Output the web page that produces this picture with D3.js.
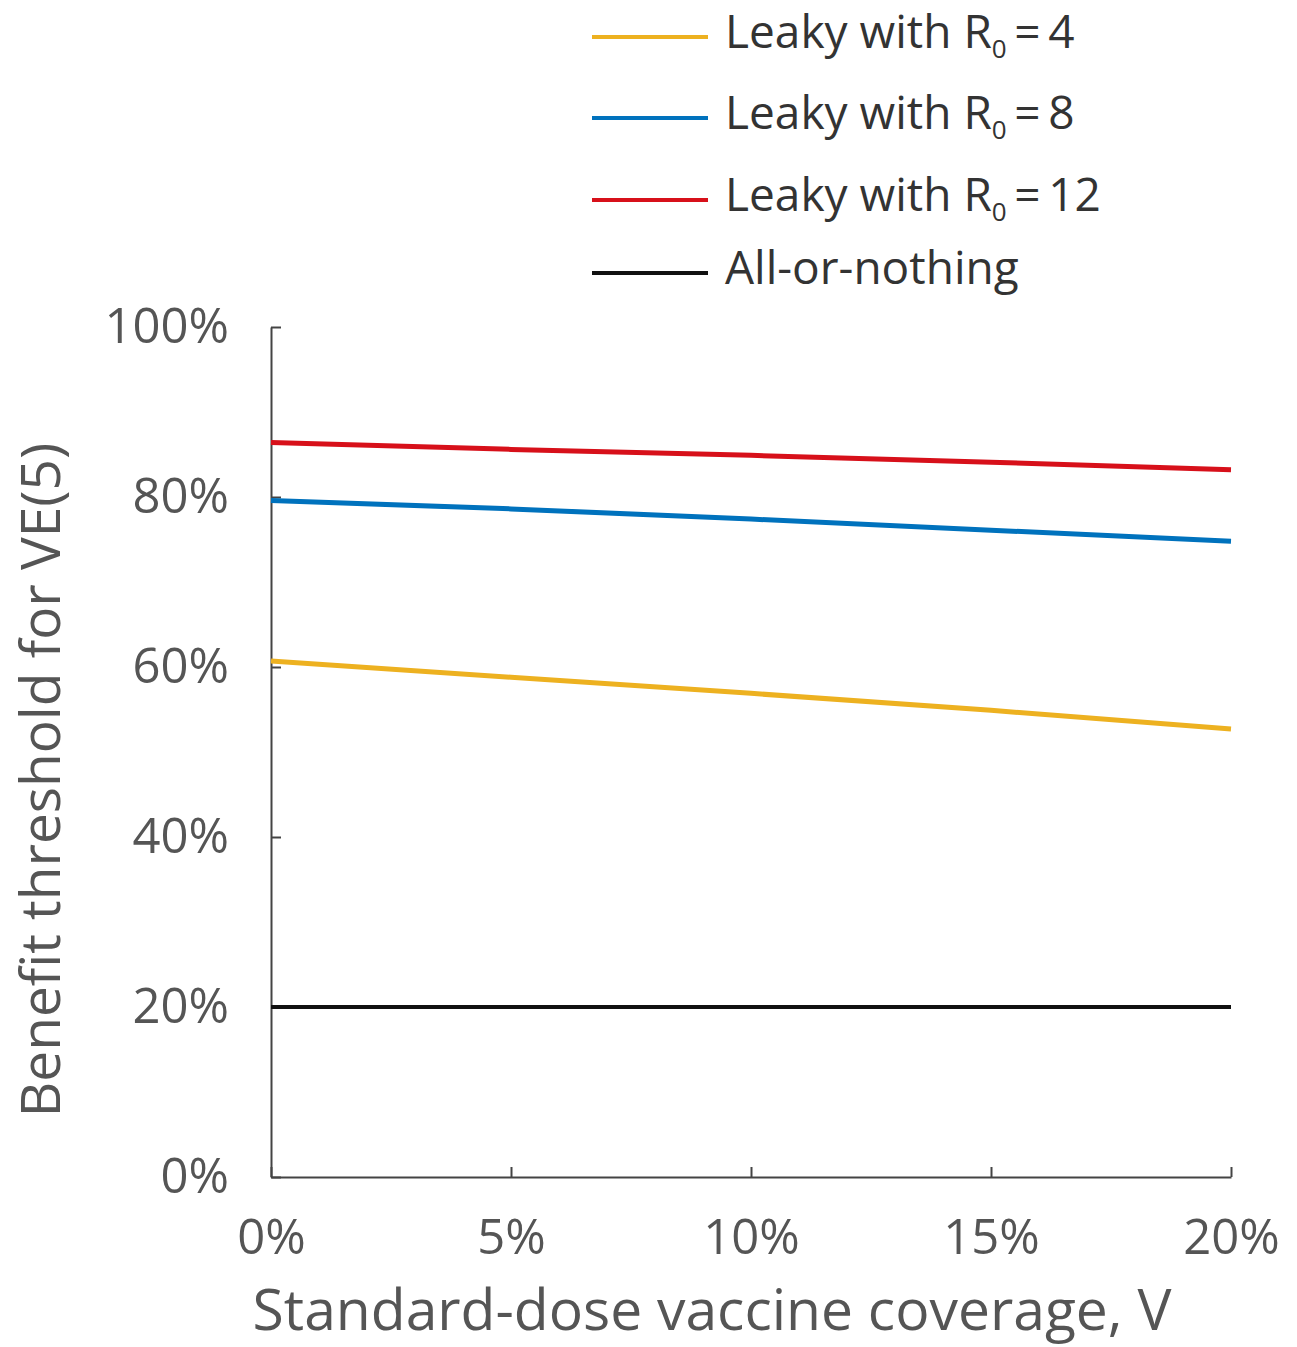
<!DOCTYPE html>
<html>
<head>
<meta charset="utf-8">
<script src="https://cdn.jsdelivr.net/npm/d3@7"></script>
<style>
  body { margin: 0; background: #fff; }
  svg { font-family: "Open Sans", "Noto Sans", sans-serif; }
  .axis text { fill: #555; font-size: 49px; font-family: "Open Sans", "Noto Sans", sans-serif; }
  .axis path, .axis line { stroke: #444; stroke-width: 2; }
</style>
</head>
<body>
<div class="chart"></div>
<script>
// coverage V (%) at which values were read
var coverage = [0, 5, 10, 15, 20];
// benefit threshold (%)
var leaky4  = [60.7, 58.8, 56.9, 54.9, 52.7];
var leaky8  = [79.6, 78.6, 77.4, 76.1, 74.8];
var leaky12 = [86.4, 85.6, 84.9, 84.1, 83.2];
var allOrNothing = [20, 20, 20, 20, 20];

var seriesNames = ["4", "8", "12", null];
var seriesColors = ["#EDB120", "#0072BD", "#D7101A", "#111111"];
var seriesValues = [leaky4, leaky8, leaky12, allOrNothing];

var xTicks = [0, 5, 10, 15, 20];
var yTicks = [0, 20, 40, 60, 80, 100];

var width = 1297, height = 1347;
var margin = {left: 271, right: 66, top: 327, bottom: 170};

const svg = d3.select(".chart").append("svg")
  .attr("width", width)
  .attr("height", height);

var x = d3.scaleLinear()
  .domain([0, 20])
  .range([margin.left, width - margin.right]);

var y = d3.scaleLinear()
  .domain([0, 100])
  .range([height - margin.bottom, margin.top]);

var xAxis = d3.axisBottom(x)
  .tickValues(xTicks)
  .tickFormat(function(d){ return d + "%"; })
  .tickSizeInner(-10)
  .tickSizeOuter(0)
  .tickPadding(42);

var yAxis = d3.axisLeft(y)
  .tickValues(yTicks)
  .tickFormat(function(d){ return d + "%"; })
  .tickSizeInner(-10)
  .tickSizeOuter(0)
  .tickPadding(42);

svg.append("g")
  .attr("class", "axis")
  .attr("transform", "translate(0," + (height - margin.bottom) + ")")
  .call(xAxis);

svg.append("g")
  .attr("class", "axis")
  .attr("transform", "translate(" + margin.left + ",0)")
  .call(yAxis);

// lines
var line = d3.line()
  .x(function(d, i){ return x(coverage[i]); })
  .y(function(d){ return y(d); });

svg.selectAll("path.series")
  .data(seriesValues)
  .enter().append("path")
    .attr("class", "series")
    .attr("fill", "none")
    .attr("stroke", function(d, i){ return seriesColors[i]; })
    .attr("stroke-width", function(d, i){ return i == 3 ? 4 : 5; })
    .attr("d", line);

// axis titles
svg.append("text")
  .attr("x", 712)
  .attr("y", 1330)
  .attr("text-anchor", "middle")
  .attr("fill", "#555")
  .attr("font-size", 57)
  .text("Standard-dose vaccine coverage, V");

svg.append("text")
  .attr("transform", "translate(60," + 780 + ") rotate(-90)")
  .attr("text-anchor", "middle")
  .attr("fill", "#555")
  .attr("font-size", 55)
  .text("Benefit threshold for VE(5)");

// legend
var legendY = [37, 118, 200, 273];
var legend = svg.selectAll("g.legend")
  .data(seriesNames)
  .enter().append("g")
    .attr("class", "legend")
    .attr("transform", function(d, i){ return "translate(592," + legendY[i] + ")"; });

legend.append("line")
  .attr("x1", 0).attr("x2", 116)
  .attr("stroke", function(d, i){ return seriesColors[i]; })
  .attr("stroke-width", 4);

legend.append("text")
  .attr("x", 133)
  .attr("y", 11)
  .attr("fill", "#333")
  .attr("font-size", 46)
  .each(function(d){
    var t = d3.select(this);
    if (d === null) { t.text("All-or-nothing"); return; }
    t.append("tspan").text("Leaky with R");
    t.append("tspan").attr("font-size", 26).attr("dy", 10).text("0");
    t.append("tspan").attr("dy", -10).text("\u2009=\u2009" + d);
  });
</script>
</body>
</html>
